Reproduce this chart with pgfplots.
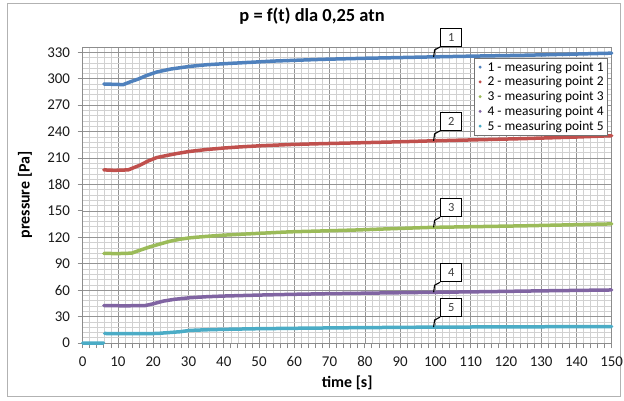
\documentclass[border=0pt]{standalone}
\usepackage{pgfplots}
\pgfplotsset{compat=1.18}
\usepackage{fontspec}
\setmainfont{Carlito}
\definecolor{sA}{HTML}{4F81BD}
\definecolor{sB}{HTML}{C0504D}
\definecolor{sC}{HTML}{9BBB59}
\definecolor{sD}{HTML}{8064A2}
\definecolor{sE}{HTML}{4BACC6}
\newcommand{\callout}[3]{\draw[black, line width=1.1bp] (axis cs:#1,#2) -- ++(1bp,7bp) -- ++(5.5bp,3bp) node[anchor=south west, draw=black, line width=1.3bp, fill=white, minimum width=21bp, minimum height=18bp, inner sep=0pt, font=\fontsize{12.5}{13}\selectfont, text=black!75] {#3};}
\begin{document}
\begin{tikzpicture}
\useasboundingbox (-82.7bp,-58bp) rectangle (541.3bp,343bp);
\draw[color=black!30, line width=0.8bp] (-75.7bp,-53bp) rectangle (537.3bp,340bp);
\begin{axis}[
  scale only axis, width=529bp, height=296bp,
  xmin=0, xmax=150, ymin=0, ymax=336,
  xtick={0,10,...,150}, ytick={0,30,...,330},
  minor x tick num=4, minor y tick num=4,
  grid=both,
  major grid style={color=black!42, line width=0.6bp},
  minor grid style={color=black!18, line width=0.6bp},
  axis line style={color=black!45, line width=0.8bp},
  tick style={color=black!45, line width=0.8bp},
  tick align=outside, tick pos=left,
  major tick length=5bp, minor tick length=0bp,
  extra x ticks={0,2,...,150}, extra x tick labels={}, extra x tick style={grid=none},
  /pgf/number format/assume math mode=true,
  tick label style={font=\fontsize{15}{17}\selectfont, text=black!90},
  xticklabel style={yshift=-5bp},
  yticklabel style={xshift=-4.2bp},
  title={p = f(t) dla 0,25 atn},
  title style={at={(axis description cs:0.4335,1.0845)}, anchor=center, font=\bfseries\fontsize{18.5}{20}\selectfont},
  xlabel={time [s]},
  ylabel={pressure [Pa]},
  every axis x label/.style={at={(axis description cs:0.5,-0.1351)}, anchor=center, font=\bfseries\fontsize{16}{18}\selectfont},
  every axis y label/.style={at={(axis description cs:-0.1091,0.5)}, anchor=center, rotate=90, font=\bfseries\fontsize{16}{18}\selectfont},
  legend style={at={(0.993,0.963)}, anchor=north east, draw=black!55, line width=0.8bp, fill=white, font=\fontsize{13.5}{15}\selectfont, inner xsep=2bp, inner ysep=1.5bp, row sep=0bp},
  legend cell align=left,
  legend image code/.code={\path[draw=none, fill=none] (-2bp,0bp) -- (7bp,0bp); \fill[#1, draw=none] (1.5bp,0bp) circle (1.6bp);},
  unbounded coords=jump,
  clip=false,
  every axis plot/.append style={line width=3.5bp, line cap=round, line join=round},
]
\addplot[color=sA] coordinates {(6,294) (9,293.6) (11.5,293.3) (13.4,296.3) (16,300) (18,303.5) (21,307.6) (25,311) (30.4,314) (35,315.8) (39.9,317) (47,318.5) (54,320) (61,321) (68,322) (80,323.2) (90,324) (97,324.6) (110,325.6) (125,326.6) (140,328) (150,329)};
\addlegendentry{1 - measuring point 1}
\addplot[color=sB] coordinates {(6,196.5) (9,196) (12.9,196.5) (16.2,201.8) (18.5,206.5) (21,210.5) (24,213) (26.6,215) (30,217.3) (35,219.6) (40,221.3) (44.6,222.6) (50,223.8) (58.8,225.3) (68,226.3) (77.7,227.2) (88,228.2) (98.5,229.4) (110,230.5) (125,232) (140,233.8) (150,235.3)};
\addlegendentry{2 - measuring point 2}
\addplot[color=sC] coordinates {(6,101.7) (10,101.5) (13.9,102) (16,105) (19.1,109.2) (22,112.5) (24.8,115.6) (27.5,117.7) (30.4,119.4) (35,121) (39.9,122.4) (50,124.5) (58.8,126.2) (68,127.2) (77.7,128.3) (88,129.8) (98.5,131.2) (110,132) (125,133) (140,134.3) (150,135.2)};
\addlegendentry{3 - measuring point 3}
\addplot[color=sD] coordinates {(6,42.5) (12,42.2) (17.7,42.5) (20,44.5) (22.9,47.6) (26,49.6) (30.4,51.4) (35,52.5) (39.9,53.3) (50,54.4) (58.8,55.2) (70,56) (85,56.8) (98.5,57.5) (115,58.3) (130,59.2) (150,60.2)};
\addlegendentry{4 - measuring point 4}
\addplot[color=sE] coordinates {(0,0) (5.9,0) (6,nan) (6.2,10.8) (12,10.6) (21,10.8) (24,11.7) (27.6,12.8) (30.4,14.3) (35,15) (40,15.5) (49.3,16.2) (60,16.7) (75,17.3) (98.5,18) (120,18.3) (150,18.7)};
\addlegendentry{5 - measuring point 5}
\callout{99.5}{324.7}{1}
\callout{99.5}{229.5}{2}
\callout{99.5}{131.3}{3}
\callout{99.5}{57.6}{4}
\callout{99.5}{18.1}{5}
\end{axis}
\end{tikzpicture}
\end{document}
